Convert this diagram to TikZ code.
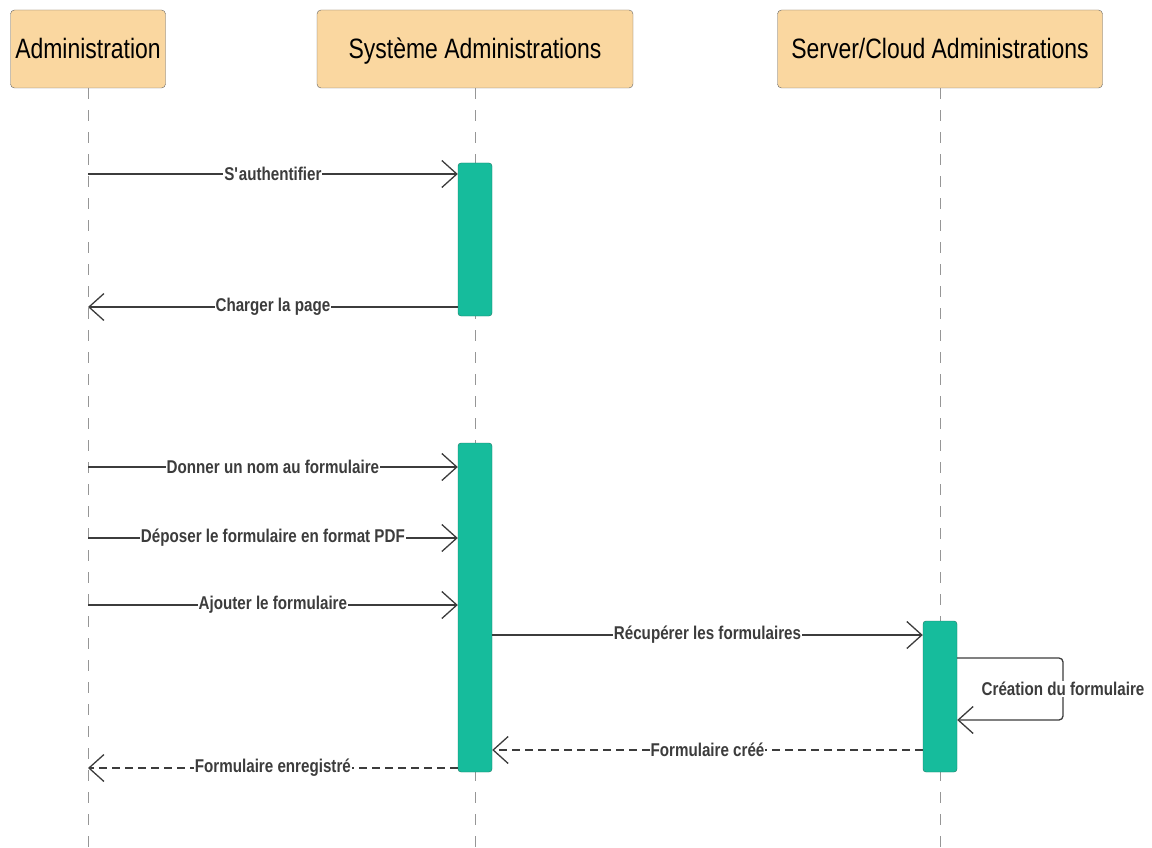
\documentclass[tikz,border=0pt]{standalone}
\usepackage{fontspec}
\setmainfont{Liberation Sans}[FakeStretch=0.82]
\usetikzlibrary{arrows.meta,positioning}
\definecolor{seqhead}{RGB}{250,215,160}
\definecolor{seqbar}{RGB}{22,188,156}
\definecolor{seqbarline}{RGB}{25,120,100}
\definecolor{seqline}{RGB}{60,60,60}
\definecolor{seqlife}{RGB}{150,150,150}

\begin{document}
\begin{tikzpicture}[x=1pt, y=-1pt, >={Straight Barb[length=15pt,width=27pt]},
  head/.style={draw=seqline!80, rounded corners=4pt, fill=seqhead, minimum height=78pt, text height=22pt, text depth=2pt, font=\fontsize{28}{32}\selectfont},
  bar/.style={draw=seqbarline, rounded corners=3pt, fill=seqbar, minimum width=34pt, inner sep=0pt},
  life/.style={draw=seqlife, line width=0.8pt, dash pattern=on 11pt off 11pt},
  msg/.style={->, draw=seqline, line width=1.3pt},
  reply/.style={msg, dash pattern=on 8pt off 5pt},
  lbl/.style={fill=white, inner sep=1pt, text=seqline, font=\bfseries\fontsize{18.5}{21}\selectfont}]
\useasboundingbox (0,0) rectangle (1152,848);
% lifelines
\node[head, minimum width=155pt] (adm) at (88,49) {Administration};
\node[head, minimum width=316pt] (sys) at (475,49) {Système Administrations};
\node[head, minimum width=325pt] (srv) at (940,49) {Server/Cloud Administrations};
\coordinate (admend) at (adm.south |- 0,848);
\coordinate (sysend) at (sys.south |- 0,848);
\coordinate (srvend) at (srv.south |- 0,848);
\draw[life] (adm.south) -- (admend);
\draw[life] (sys.south) -- (sysend);
\draw[life] (srv.south) -- (srvend);
% activations
\node[bar, minimum height=153pt] (b1) at (475,239.5) {};
\node[bar, minimum height=329pt] (b2) at (475,607.5) {};
\node[bar, minimum height=151pt] (b3) at (940,696.5) {};
% messages
\draw[msg] (adm.south |- 0,174) -- node[lbl] {S\textquotesingle authentifier} (b1.west |- 0,174);
\draw[msg] (b1.west |- 0,307) -- node[lbl] {Charger la page} (adm.south |- 0,307);
\draw[msg] (adm.south |- 0,467) -- node[lbl] {Donner un nom au formulaire} (b2.west |- 0,467);
\draw[msg] (adm.south |- 0,538) -- node[lbl] {Déposer le formulaire en format PDF} (b2.west |- 0,538);
\draw[msg] (adm.south |- 0,605) -- node[lbl] {Ajouter le formulaire} (b2.west |- 0,605);
\draw[msg] (b2.east |- 0,635) -- node[lbl] {Récupérer les formulaires} (b3.west |- 0,635);
\draw[msg, rounded corners=4pt] (b3.east |- 0,658) -- (1063,658) -- node[lbl] {Création du formulaire} (1063,720) -- (b3.east |- 0,720);
\draw[reply] (b3.west |- 0,750) -- node[lbl] {Formulaire créé} (b2.east |- 0,750);
\draw[reply] (b2.west |- 0,768) -- node[lbl] {Formulaire enregistré} (adm.south |- 0,768);
\end{tikzpicture}
\end{document}
